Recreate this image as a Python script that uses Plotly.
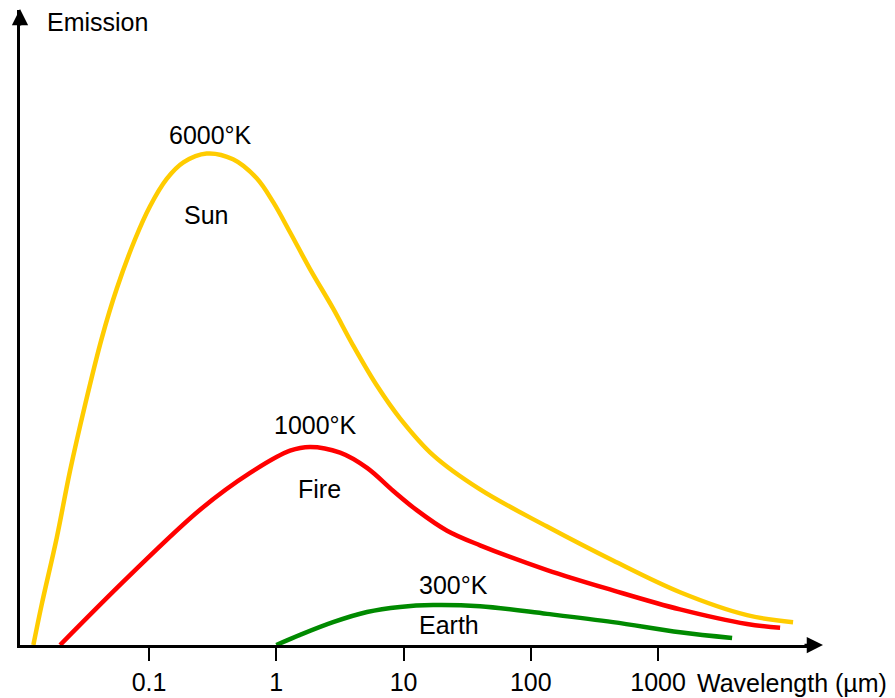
import plotly.graph_objects as go

# Wavelength in micrometres (log axis), emission in arbitrary units
sun_wavelength = [0.01233, 0.01435, 0.01883, 0.02393, 0.03141, 0.04249, 0.05572, 0.07762, 0.1018,
                  0.1377, 0.1862, 0.2838, 0.4571, 0.7015, 0.9484, 1.282, 1.841, 2.793, 4.009,
                  6.152, 9.377, 17.06, 39.9, 134.3, 442.6, 1489, 5002, 11510]
sun_emission = [0, 6.4, 16.9, 27.4, 37.8, 48.3, 56.1, 63.9, 69.1,
                73.4, 76.0, 77.4, 76.5, 73.5, 69.7, 65.0, 59.2, 53.0, 47.2,
                40.9, 35.7, 29.9, 24.5, 18.65, 13.3, 8.3, 4.7, 3.6]

fire_wavelength = [0.0200, 0.0709, 0.2518, 0.6223, 1.282, 1.841, 3.170, 5.164, 8.267, 12.77,
                   21.98, 39.9, 134.3, 442.6, 1489, 5002, 9099]
fire_emission = [0, 11.0, 21.3, 27.1, 30.6, 31.2, 30.3, 27.9, 24.3, 21.2,
                 18.0, 15.7, 11.8, 8.6, 5.6, 3.3, 2.7]

earth_wavelength = [1.0, 1.538, 2.793, 5.164, 9.377, 17.06, 39.9, 134.3, 442.6, 1489, 3819]
earth_emission = [0, 1.6, 3.6, 5.2, 6.0, 6.3, 6.1, 4.9, 3.6, 2.0, 1.1]

tick_values = [0.1, 1, 10, 100, 1000]
tick_labels = ["0.1", "1", "10", "100", "1000"]

FONT = "Liberation Sans, Arial, sans-serif"
FS = 25

# page body has an 8px margin, so the figure is drawn 8px in from the window edge
OFF = 8
W, H = 895 - OFF, 698 - OFF
L, R, T, B = 20 - OFF, 85, 10 - OFF, 50
PW, PH = W - L - R, H - T - B


def px(x):
    return (x - OFF - L) / PW


def py(y):
    return (H - B - (y - OFF)) / PH


fig = go.Figure()
for xs, ys, col in [(sun_wavelength, sun_emission, "#FFCC00"),
                    (fire_wavelength, fire_emission, "#FF0000"),
                    (earth_wavelength, earth_emission, "#008A00")]:
    fig.add_trace(go.Scatter(x=xs, y=ys, mode="lines",
                             line=dict(color=col, width=4.5, shape="spline", smoothing=1.0),
                             hoverinfo="skip", showlegend=False))

labels = [("6000°K", 210, 136), ("Sun", 206, 216), ("1000°K", 315, 427), ("Fire", 319, 491),
          ("300°K", 453, 588), ("Earth", 449, 628)]
annotations = []
for txt, x, y in labels:
    annotations.append(dict(text=txt, x=px(x), y=py(y), xref="paper", yref="paper",
                            showarrow=False, xanchor="center", yanchor="middle",
                            font=dict(family=FONT, size=FS, color="black")))

annotations.append(dict(text="Emission", x=px(45), y=py(22), xref="paper", yref="paper",
                        showarrow=False, xanchor="left", yanchor="middle",
                        font=dict(family=FONT, size=FS, color="black")))
annotations.append(dict(text="Wavelength (µm)", x=px(695), y=py(686), xref="paper", yref="paper",
                        showarrow=False, xanchor="left", yanchor="middle",
                        font=dict(family=FONT, size=FS, color="black")))
# axis arrows
annotations.append(dict(text="", x=px(823), y=py(648), ax=-20, ay=0, xref="paper", yref="paper",
                        showarrow=True, arrowhead=2, arrowsize=1.3, arrowwidth=2.5, arrowcolor="black"))
annotations.append(dict(text="", x=px(20), y=py(7), ax=0, ay=20, xref="paper", yref="paper",
                        showarrow=True, arrowhead=2, arrowsize=1.3, arrowwidth=2.5, arrowcolor="black"))

fig.update_layout(
    width=W, height=H,
    margin=dict(l=L, r=R, t=T, b=B, pad=0),
    paper_bgcolor="white", plot_bgcolor="white",
    annotations=annotations,
    xaxis=dict(type="log", range=[-2.014, 4.194], tickvals=tick_values, ticktext=tick_labels,
               showgrid=False, zeroline=False, showline=True, linecolor="black", linewidth=2.5,
               ticks="outside", ticklen=13, tickwidth=2, tickcolor="black",
               tickfont=dict(family=FONT, size=FS, color="black")),
    yaxis=dict(range=[0, 100], showgrid=False, zeroline=False, showline=True,
               linecolor="black", linewidth=2.5, showticklabels=False, ticks=""),
)

fig.write_html("out.html")
